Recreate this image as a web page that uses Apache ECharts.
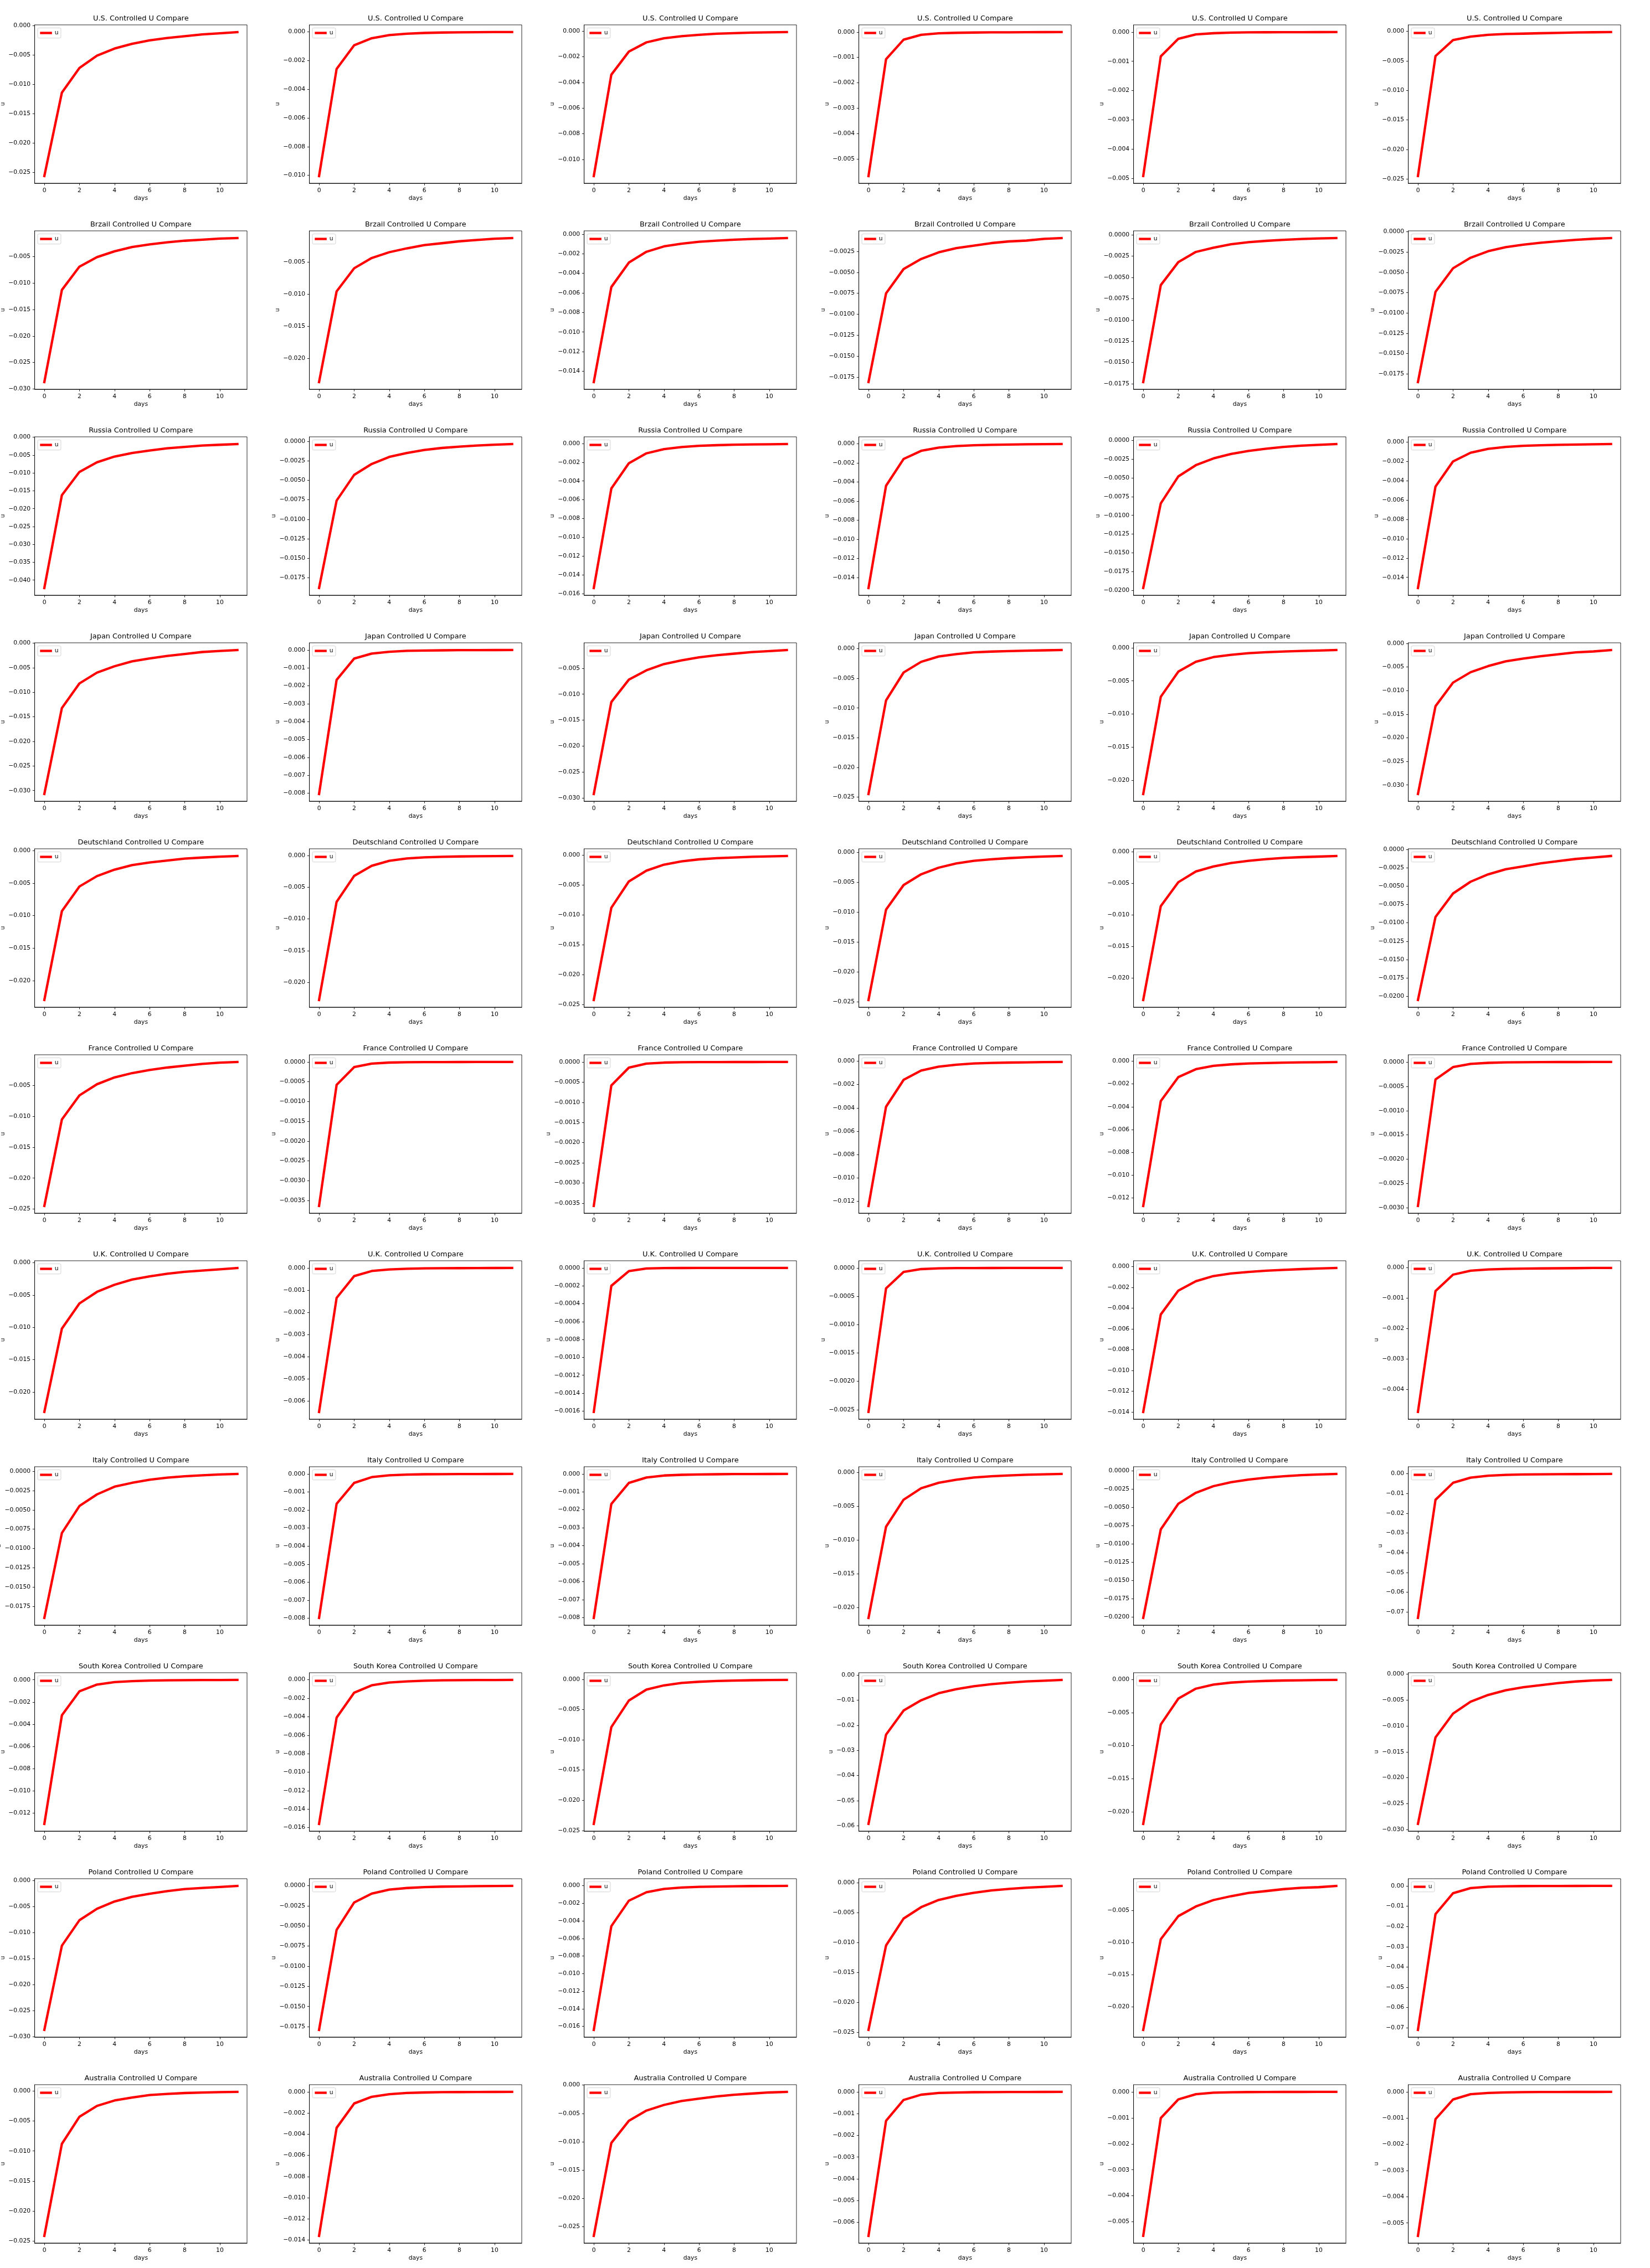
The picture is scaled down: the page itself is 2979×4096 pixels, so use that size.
<!DOCTYPE html>
<html><head><meta charset="utf-8">
<script src="https://cdn.jsdelivr.net/npm/echarts@6/dist/echarts.min.js"></script>
<style>html,body{margin:0;padding:0;background:#fff}#chart{width:2979px;height:4096px}</style>
</head><body><div id="chart"></div>
<script>
const days = [0,1,2,3,4,5,6,7,8,9,10,11];
const xTicks = [0,2,4,6,8,10];
const countries = ['U.S.','Brzail','Russia','Japan','Deutschland','France','U.K.','Italy','South Korea','Poland','Australia'];

const us = [
 [-0.0256,-0.0114,-0.0072,-0.0051,-0.0039,-0.0031,-0.0025,-0.0021,-0.0018,-0.0015,-0.0013,-0.0011],
 [-0.01005,-0.00258,-0.00093,-0.00044,-0.00022,-0.00012,-0.00007,-0.00004,-0.00003,-0.00002,-0.00001,-0.00001],
 [-0.0113,-0.0034,-0.0016,-0.00088,-0.00056,-0.0004,-0.00029,-0.00021,-0.00016,-0.00012,-0.0001,-0.00008],
 [-0.00568,-0.00107,-0.0003,-0.00011,-0.00005,-0.00003,-0.00002,-0.00001,-0.00001,-0.000005,-0.000003,-0.000002],
 [-0.00492,-0.00083,-0.00023,-0.00008,-0.00004,-0.00002,-0.00001,-0.000007,-0.000004,-0.000003,-0.000002,-0.000001],
 [-0.0245,-0.0042,-0.0015,-0.0009,-0.0006,-0.00047,-0.0004,-0.00033,-0.00027,-0.00021,-0.00017,-0.00014]
];
const brazil = [
 [-0.0287,-0.0113,-0.0069,-0.0051,-0.004,-0.0032,-0.0027,-0.0023,-0.002,-0.0018,-0.0016,-0.0015],
 [-0.0237,-0.0096,-0.006,-0.0044,-0.0035,-0.0029,-0.0024,-0.0021,-0.0018,-0.0016,-0.0014,-0.0013],
 [-0.0151,-0.0054,-0.0029,-0.0018,-0.00125,-0.00097,-0.00078,-0.00066,-0.00057,-0.0005,-0.00045,-0.0004],
 [-0.0181,-0.0075,-0.0046,-0.0034,-0.0026,-0.0021,-0.0018,-0.0015,-0.0013,-0.0012,-0.001,-0.0009],
 [-0.0173,-0.0059,-0.0032,-0.002,-0.0015,-0.0011,-0.00085,-0.0007,-0.00058,-0.00048,-0.00042,-0.00037],
 [-0.0185,-0.0074,-0.0045,-0.0032,-0.0024,-0.0019,-0.0016,-0.00136,-0.00117,-0.001,-0.00087,-0.00078]
];
const russia = [
 [-0.0422,-0.0162,-0.0097,-0.007,-0.0054,-0.0044,-0.0037,-0.0031,-0.0027,-0.0023,-0.0021,-0.0019],
 [-0.0188,-0.0076,-0.0043,-0.0029,-0.002,-0.0015,-0.0011,-0.00085,-0.00068,-0.00054,-0.00043,-0.00035],
 [-0.0154,-0.0048,-0.0021,-0.00105,-0.0006,-0.00038,-0.00025,-0.00018,-0.00013,-0.0001,-0.00008,-0.00006],
 [-0.0151,-0.0044,-0.0016,-0.00075,-0.00041,-0.00025,-0.00017,-0.00012,-0.00009,-0.00007,-0.00005,-0.00004],
 [-0.0197,-0.0084,-0.0048,-0.0033,-0.0024,-0.0018,-0.0014,-0.0011,-0.00086,-0.0007,-0.00058,-0.00048],
 [-0.0151,-0.0046,-0.002,-0.0011,-0.0007,-0.0005,-0.00038,-0.00032,-0.00028,-0.00025,-0.00022,-0.0002]
];
const japan = [
 [-0.0307,-0.0132,-0.0082,-0.006,-0.0047,-0.0037,-0.0031,-0.0026,-0.0022,-0.0018,-0.0016,-0.0014],
 [-0.00804,-0.00167,-0.00048,-0.0002,-0.0001,-0.00005,-0.00003,-0.00002,-0.00001,-0.00001,-0.000005,-0.000003],
 [-0.0292,-0.0115,-0.0072,-0.0054,-0.0042,-0.0035,-0.0029,-0.0025,-0.0022,-0.0019,-0.0017,-0.0015],
 [-0.0245,-0.0087,-0.004,-0.0022,-0.0013,-0.0009,-0.0006,-0.00047,-0.00039,-0.00032,-0.00026,-0.00021],
 [-0.0221,-0.0074,-0.0036,-0.0021,-0.0014,-0.00105,-0.0008,-0.00066,-0.00055,-0.00047,-0.0004,-0.00033],
 [-0.0319,-0.0133,-0.0083,-0.0061,-0.0048,-0.0038,-0.0032,-0.0027,-0.0023,-0.0019,-0.0017,-0.0014]
];
const germany = [
 [-0.023,-0.0093,-0.0055,-0.0039,-0.0029,-0.0022,-0.0018,-0.0015,-0.0012,-0.00104,-0.0009,-0.0008],
 [-0.0228,-0.0073,-0.0032,-0.0016,-0.00082,-0.00045,-0.00027,-0.00018,-0.00013,-0.0001,-0.00008,-0.00006],
 [-0.0242,-0.0088,-0.0044,-0.0026,-0.0016,-0.00105,-0.00072,-0.00053,-0.0004,-0.0003,-0.00022,-0.00016],
 [-0.0247,-0.0096,-0.0055,-0.0037,-0.0026,-0.0019,-0.00145,-0.0012,-0.001,-0.00085,-0.00073,-0.00065],
 [-0.0235,-0.0086,-0.0048,-0.0031,-0.0023,-0.00175,-0.0014,-0.00114,-0.00095,-0.00082,-0.00073,-0.00064],
 [-0.0205,-0.0092,-0.006,-0.0044,-0.0034,-0.0027,-0.0023,-0.0019,-0.0016,-0.0013,-0.0011,-0.0009]
];
const france = [
 [-0.0245,-0.0105,-0.0066,-0.0048,-0.0037,-0.003,-0.0025,-0.0021,-0.0018,-0.0015,-0.0013,-0.0012],
 [-0.00364,-0.00058,-0.00013,-0.00004,-0.000015,-0.000006,-0.000003,-0.000002,-0.000001,-0.0000005,-0.0000003,-0.0000002],
 [-0.00357,-0.00058,-0.00014,-0.00004,-0.000015,-0.000006,-0.000003,-0.000002,-0.000001,-0.0000005,-0.0000003,-0.0000002],
 [-0.0124,-0.0039,-0.0016,-0.0008,-0.00047,-0.0003,-0.0002,-0.00015,-0.00012,-0.0001,-0.00008,-0.00007],
 [-0.0127,-0.0035,-0.0014,-0.0007,-0.00041,-0.00028,-0.0002,-0.00016,-0.00013,-0.0001,-0.00009,-0.00007],
 [-0.00296,-0.00036,-0.000105,-0.00004,-0.000018,-0.000008,-0.000004,-0.000002,-0.000001,-0.0000006,-0.0000003,-0.0000002]
];
const uk = [
 [-0.0231,-0.0102,-0.0063,-0.0045,-0.0034,-0.0026,-0.0021,-0.0017,-0.0014,-0.0012,-0.001,-0.0008],
 [-0.00648,-0.00135,-0.00037,-0.00014,-0.00007,-0.00004,-0.00002,-0.000015,-0.00001,-0.000006,-0.000004,-0.000003],
 [-0.00161,-0.0002,-0.000035,-0.000006,-0.000001,-0.0000003,-0.0000001,-0.00000005,-0.00000003,-0.00000002,-0.00000001,-0.00000001],
 [-0.00254,-0.00036,-0.00007,-0.00002,-0.000006,-0.000002,-0.000001,-0.0000005,-0.0000003,-0.0000002,-0.0000001,-0.0000001],
 [-0.014,-0.0046,-0.0023,-0.0014,-0.0009,-0.00065,-0.0005,-0.00038,-0.0003,-0.00023,-0.00017,-0.00012],
 [-0.00475,-0.00077,-0.00023,-0.0001,-0.00006,-0.00004,-0.00003,-0.000025,-0.00002,-0.000015,-0.00001,-0.00001]
];
const italy = [
 [-0.019,-0.008,-0.0045,-0.003,-0.002,-0.0015,-0.0011,-0.00083,-0.00065,-0.00052,-0.00042,-0.00035],
 [-0.00798,-0.00166,-0.0005,-0.00018,-0.00008,-0.00004,-0.00002,-0.000015,-0.00001,-0.000006,-0.000004,-0.000003],
 [-0.00802,-0.00167,-0.0005,-0.0002,-0.00009,-0.00005,-0.00003,-0.00002,-0.00001,-0.000007,-0.000005,-0.000003],
 [-0.0215,-0.008,-0.004,-0.0023,-0.0015,-0.00105,-0.00072,-0.00054,-0.00041,-0.00031,-0.00024,-0.00019],
 [-0.0201,-0.008,-0.0045,-0.003,-0.0021,-0.00156,-0.0012,-0.00093,-0.00075,-0.0006,-0.0005,-0.00043],
 [-0.073,-0.0132,-0.0046,-0.002,-0.001,-0.0006,-0.0004,-0.0003,-0.00024,-0.0002,-0.00015,-0.00012]
];
const korea = [
 [-0.013,-0.0032,-0.00104,-0.00043,-0.00021,-0.00012,-0.00007,-0.00004,-0.00003,-0.00002,-0.000015,-0.00001],
 [-0.0156,-0.0041,-0.0014,-0.0006,-0.0003,-0.00017,-0.0001,-0.00006,-0.00004,-0.00003,-0.00002,-0.000015],
 [-0.0239,-0.0079,-0.0035,-0.0017,-0.001,-0.0006,-0.0004,-0.00028,-0.0002,-0.00015,-0.00012,-0.0001],
 [-0.0593,-0.0237,-0.0141,-0.01,-0.0072,-0.0056,-0.0044,-0.0036,-0.003,-0.0025,-0.0022,-0.0019],
 [-0.0218,-0.0068,-0.0029,-0.0014,-0.00078,-0.00048,-0.00032,-0.00023,-0.00017,-0.00013,-0.0001,-0.00008],
 [-0.0289,-0.0122,-0.0076,-0.0053,-0.004,-0.0031,-0.0025,-0.0021,-0.0017,-0.0014,-0.0012,-0.0011]
];
const poland = [
 [-0.0287,-0.0125,-0.0076,-0.0054,-0.004,-0.0031,-0.0025,-0.002,-0.0016,-0.0014,-0.0012,-0.001],
 [-0.0179,-0.0055,-0.0021,-0.001,-0.0005,-0.0003,-0.00019,-0.00013,-0.0001,-0.00007,-0.00005,-0.00004],
 [-0.0164,-0.0046,-0.0017,-0.00074,-0.00036,-0.0002,-0.00012,-0.00009,-0.00006,-0.00004,-0.00003,-0.00002],
 [-0.0246,-0.0105,-0.006,-0.0041,-0.0029,-0.0022,-0.0017,-0.0013,-0.00105,-0.00085,-0.0007,-0.00055],
 [-0.0236,-0.0095,-0.0059,-0.0044,-0.0034,-0.0028,-0.0023,-0.002,-0.0017,-0.0015,-0.0014,-0.0012],
 [-0.071,-0.0139,-0.0036,-0.0011,-0.0004,-0.0002,-0.0001,-0.00006,-0.00004,-0.00002,-0.00001,-0.00001]
];
const australia = [
 [-0.0241,-0.0088,-0.0043,-0.0025,-0.0016,-0.0011,-0.0007,-0.0005,-0.00036,-0.00027,-0.00021,-0.00017],
 [-0.0136,-0.0034,-0.0011,-0.00047,-0.00022,-0.00011,-0.00006,-0.00003,-0.00002,-0.000012,-0.000008,-0.000005],
 [-0.0266,-0.0102,-0.0063,-0.0045,-0.0035,-0.0028,-0.0024,-0.002,-0.0017,-0.0015,-0.0013,-0.0012],
 [-0.00662,-0.00133,-0.00037,-0.00013,-0.00005,-0.00003,-0.000015,-0.00001,-0.000006,-0.000004,-0.000002,-0.000001],
 [-0.00554,-0.00101,-0.00029,-0.00009,-0.00003,-0.000015,-0.000007,-0.000004,-0.000002,-0.000001,-0.0000005,-0.0000003],
 [-0.00549,-0.00104,-0.00029,-0.00009,-0.00004,-0.00002,-0.00001,-0.000006,-0.000004,-0.000002,-0.000001,-0.0000005]
];

// y tick step of each panel (row = country, column = panel)
const yTickSteps = [
 [0.005, 0.002, 0.002, 0.001, 0.001, 0.005],
 [0.005, 0.005, 0.002, 0.0025, 0.0025, 0.0025],
 [0.005, 0.0025, 0.002, 0.002, 0.0025, 0.002],
 [0.005, 0.001, 0.005, 0.005, 0.005, 0.005],
 [0.005, 0.005, 0.005, 0.005, 0.005, 0.0025],
 [0.005, 0.0005, 0.0005, 0.002, 0.002, 0.0005],
 [0.005, 0.001, 0.0002, 0.0005, 0.002, 0.001],
 [0.0025, 0.001, 0.001, 0.005, 0.0025, 0.01],
 [0.002, 0.002, 0.005, 0.01, 0.005, 0.005],
 [0.005, 0.0025, 0.002, 0.005, 0.005, 0.01],
 [0.005, 0.002, 0.005, 0.001, 0.001, 0.001]
];

const panels = [us, brazil, russia, japan, germany, france, uk, italy, korea, poland, australia];

// ---- layout (pixels in the 2979x4096 window) ----
const S = 0.775;
const FONT = 'DejaVu Sans';
const FS = 13.89 * S;      // tick / label font
const TFS = 16.67 * S;     // title font
const axLeft0 = 80.8 * S, colStep = 640 * S, axW = 494.7 * S;
const axTop0 = 58 * S, rowStep = 480 * S, axH = 369 * S;
const TICK = 4.86 * S, PAD = 4.86 * S, LABELPAD = 5.56 * S;
const SPINE = 0.86;
const LW = 5.56 * S;

const ctx = document.createElement('canvas').getContext('2d');
ctx.font = FS + 'px "' + FONT + '"';

function decimalsOf(step) {
  const s = String(step);
  return s.indexOf('.') < 0 ? 0 : s.length - s.indexOf('.') - 1;
}
function fmt(v, dec) {
  const s = Math.abs(v).toFixed(dec);
  return (v < 0 && Number(s) !== 0 ? '\u2212' : '') + s;
}

const grids = [], xAxes = [], yAxes = [], series = [], titles = [], legends = [];
panels.forEach((rowVals, r) => {
  rowVals.forEach((vals, c) => {
    const idx = grids.length;
    const left = axLeft0 + c * colStep;
    const top = axTop0 + r * rowStep;
    const dmin = Math.min(...vals), dmax = Math.max(...vals), span = dmax - dmin;
    const ymin = dmin - 0.05 * span, ymax = dmax + 0.05 * span;
    const step = yTickSteps[r][c];
    const dec = decimalsOf(step);
    const ticks = [];
    for (let k = Math.ceil(ymin / step - 1e-9); k <= Math.floor(ymax / step + 1e-9); k++) {
      ticks.push(Number((k * step).toFixed(dec + 3)));
    }
    let maxW = 0;
    ticks.forEach(t => { maxW = Math.max(maxW, ctx.measureText(fmt(t, dec)).width); });

    grids.push({
      left: left, top: top, width: axW, height: axH,
      show: true, borderColor: '#000', borderWidth: SPINE, backgroundColor: '#fff',
      containLabel: false, outerBoundsMode: 'none'
    });
    xAxes.push({
      gridIndex: idx, type: 'value', min: -0.55, max: 11.55, position: 'bottom',
      axisLine: { show: true, onZero: false, lineStyle: { color: '#000', width: SPINE } },
      axisTick: { show: true, length: TICK, customValues: xTicks, lineStyle: { color: '#000', width: SPINE } },
      axisLabel: { show: true, customValues: xTicks, margin: TICK + PAD, fontSize: FS, fontFamily: FONT, color: '#000',
                   formatter: v => String(v) },
      splitLine: { show: false },
      name: 'days', nameLocation: 'middle', nameGap: 22, nameMoveOverlap: false,
      nameTextStyle: { fontSize: FS, fontFamily: FONT, color: '#000' }
    });
    yAxes.push({
      gridIndex: idx, type: 'value', min: ymin, max: ymax, position: 'left',
      axisLine: { show: true, onZero: false, lineStyle: { color: '#000', width: SPINE } },
      axisTick: { show: true, length: TICK, customValues: ticks, lineStyle: { color: '#000', width: SPINE } },
      axisLabel: { show: true, customValues: ticks, margin: TICK + PAD, fontSize: FS, fontFamily: FONT, color: '#000',
                   formatter: v => fmt(v, dec) },
      splitLine: { show: false },
      name: 'u', nameLocation: 'middle', nameRotate: 90, nameMoveOverlap: false,
      nameGap: TICK + PAD + maxW + LABELPAD,
      nameTextStyle: { fontSize: FS, fontFamily: FONT, color: '#000' }
    });
    series.push({
      type: 'line', name: 'u', xAxisIndex: idx, yAxisIndex: idx,
      data: days.map((d, i) => [d, vals[i]]),
      showSymbol: false, symbol: 'none', silent: true, animation: false,
      lineStyle: { color: '#ff0000', width: LW, cap: 'square', join: 'round' },
      itemStyle: { color: '#ff0000' }
    });
    titles.push({
      text: countries[r] + ' Controlled U Compare',
      left: left + axW / 2, top: top - 17.5, textAlign: 'center', padding: 0,
      textStyle: { fontSize: TFS, fontWeight: 'normal', fontFamily: FONT, color: '#000', lineHeight: TFS }
    });
    legends.push({
      data: ['u'], left: left + 5.4, top: top + 5.4, orient: 'vertical',
      icon: 'rect', itemWidth: 21.5, itemHeight: LW,
      padding: [3.2, 4.3, 3.2, 4.3], borderColor: '#cccccc', borderWidth: SPINE, borderRadius: 2.5,
      backgroundColor: 'rgba(255,255,255,0.8)', selectedMode: false,
      textStyle: { fontSize: FS, fontFamily: FONT, color: '#000', lineHeight: 12 },
      itemStyle: { color: '#ff0000' }
    });
  });
});

const chart = echarts.init(document.getElementById('chart'), null, { renderer: 'canvas', width: 2979, height: 4096 });
chart.setOption({
  animation: false,
  backgroundColor: '#fff',
  title: titles,
  legend: legends,
  grid: grids,
  xAxis: xAxes,
  yAxis: yAxes,
  series: series
});
</script>
</body></html>
